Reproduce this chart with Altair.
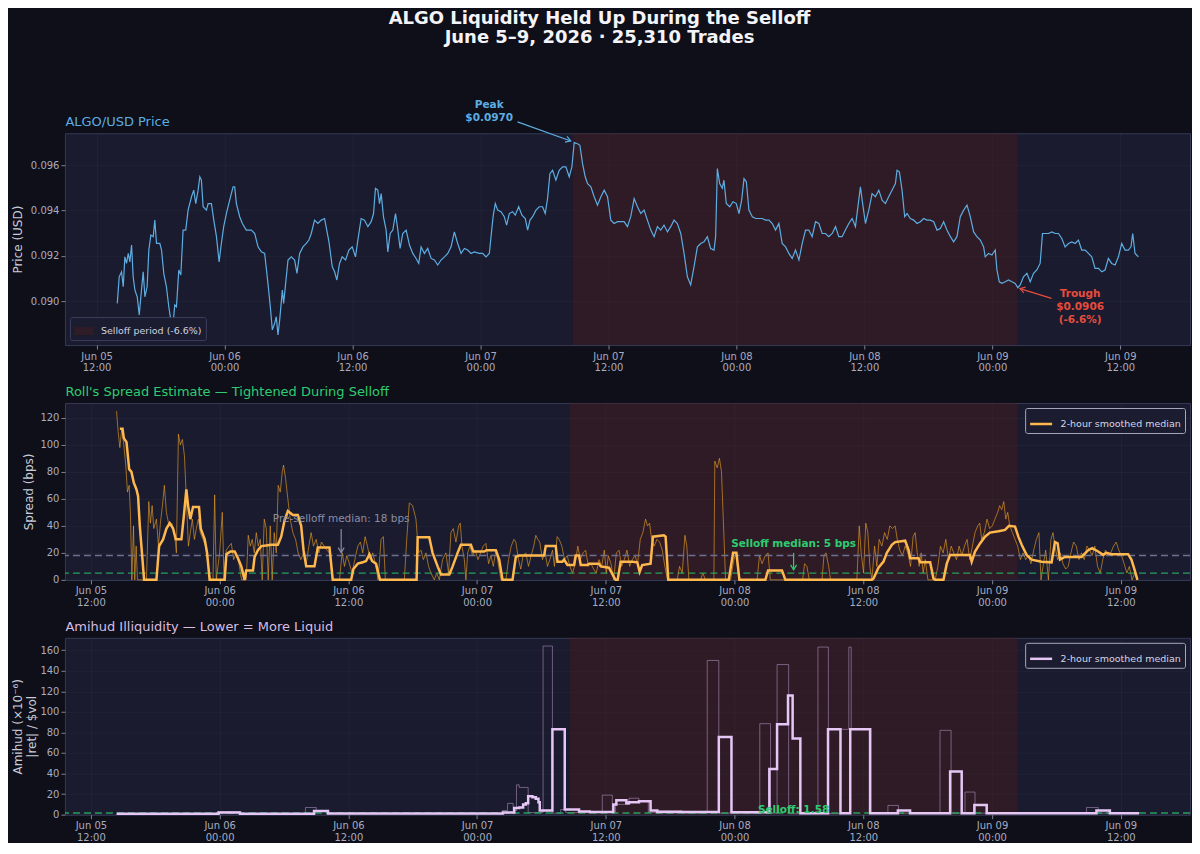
import altair as alt
import pandas as pd

# ---------------- data (hours after Jun 05 12:00, value) ----------------
PRICE = [
    (1.94, 0.08991), (2.12, 0.09108), (2.34, 0.09130), (2.50, 0.09064), (2.65, 0.09196), (2.81, 0.09167),
    (2.97, 0.09211), (3.12, 0.09174), (3.28, 0.09248), (3.43, 0.09108), (3.59, 0.09050), (3.81, 0.09020),
    (4.00, 0.08940), (4.21, 0.09050), (4.37, 0.09130), (4.53, 0.09020), (4.74, 0.09064), (4.90, 0.09226),
    (5.09, 0.09292), (5.31, 0.09285), (5.46, 0.09358), (5.62, 0.09255), (5.93, 0.09255), (6.09, 0.09226),
    (6.30, 0.09123), (6.55, 0.09064), (6.77, 0.08976), (6.96, 0.08918), (7.18, 0.08903), (7.33, 0.08984),
    (7.49, 0.08976), (7.71, 0.09138), (7.90, 0.09116), (8.11, 0.09314), (8.36, 0.09314), (8.58, 0.09402),
    (8.90, 0.09461), (9.11, 0.09490), (9.30, 0.09431), (9.52, 0.09490), (9.68, 0.09549), (9.83, 0.09534),
    (9.99, 0.09417), (10.30, 0.09402), (10.46, 0.09431), (10.77, 0.09431), (10.99, 0.09358), (11.24, 0.09285),
    (11.49, 0.09174), (11.70, 0.09255), (11.92, 0.09329), (12.17, 0.09387), (12.48, 0.09446), (12.80, 0.09505),
    (12.95, 0.09505), (13.11, 0.09431), (13.42, 0.09373), (13.67, 0.09343), (14.04, 0.09314), (14.51, 0.09314),
    (14.83, 0.09299), (15.14, 0.09240), (15.45, 0.09218), (15.76, 0.09211), (16.07, 0.09079), (16.29, 0.08976),
    (16.48, 0.08874), (16.70, 0.08903), (16.85, 0.08932), (17.01, 0.08852), (17.17, 0.08918), (17.42, 0.09050),
    (17.54, 0.08991), (17.73, 0.09079), (17.95, 0.09182), (18.26, 0.09196), (18.57, 0.09182), (18.79, 0.09123),
    (19.04, 0.09211), (19.35, 0.09240), (19.66, 0.09255), (19.91, 0.09270), (20.13, 0.09299), (20.44, 0.09358),
    (20.75, 0.09343), (21.07, 0.09358), (21.38, 0.09365), (21.79, 0.09262), (22.10, 0.09152), (22.32, 0.09130),
    (22.53, 0.09094), (22.78, 0.09167), (23.03, 0.09196), (23.35, 0.09182), (23.66, 0.09226), (23.97, 0.09240),
    (24.28, 0.09196), (24.50, 0.09270), (24.81, 0.09365), (25.12, 0.09358), (25.44, 0.09329), (25.75, 0.09351),
    (25.97, 0.09387), (26.15, 0.09498), (26.37, 0.09490), (26.53, 0.09431), (26.69, 0.09475), (26.90, 0.09373),
    (27.15, 0.09314), (27.31, 0.09218), (27.53, 0.09299), (27.78, 0.09314), (28.03, 0.09387), (28.25, 0.09314),
    (28.46, 0.09233), (28.71, 0.09299), (29.03, 0.09314), (29.34, 0.09248), (29.65, 0.09211), (29.96, 0.09189),
    (30.21, 0.09167), (30.43, 0.09240), (30.74, 0.09211), (31.05, 0.09233), (31.37, 0.09189), (31.68, 0.09182),
    (31.99, 0.09160), (32.30, 0.09182), (32.62, 0.09196), (32.93, 0.09211), (33.24, 0.09240), (33.55, 0.09306),
    (33.86, 0.09255), (34.18, 0.09211), (34.49, 0.09233), (34.80, 0.09226), (35.11, 0.09211), (35.42, 0.09218),
    (35.89, 0.09211), (36.20, 0.09211), (36.52, 0.09196), (36.83, 0.09211), (37.05, 0.09314), (37.20, 0.09380),
    (37.39, 0.09431), (37.61, 0.09402), (37.92, 0.09395), (38.23, 0.09373), (38.45, 0.09336), (38.70, 0.09387),
    (39.01, 0.09395), (39.26, 0.09380), (39.58, 0.09417), (39.89, 0.09380), (40.20, 0.09365), (40.42, 0.09314),
    (40.64, 0.09358), (40.89, 0.09373), (41.20, 0.09402), (41.51, 0.09417), (41.82, 0.09417), (42.07, 0.09387),
    (42.29, 0.09453), (42.51, 0.09563), (42.76, 0.09578), (43.07, 0.09534), (43.38, 0.09578), (43.70, 0.09593),
    (44.01, 0.09593), (44.32, 0.09549), (44.57, 0.09593), (44.79, 0.09700), (45.10, 0.09695), (45.32, 0.09688),
    (45.57, 0.09607), (45.82, 0.09549), (46.04, 0.09519), (46.35, 0.09505), (46.66, 0.09461), (46.97, 0.09424),
    (47.29, 0.09461), (47.60, 0.09490), (47.91, 0.09461), (48.22, 0.09358), (48.53, 0.09343), (48.85, 0.09351),
    (49.16, 0.09351), (49.47, 0.09351), (49.78, 0.09329), (50.09, 0.09373), (50.41, 0.09453), (50.72, 0.09417),
    (51.03, 0.09387), (51.34, 0.09402), (51.65, 0.09358), (51.97, 0.09314), (52.28, 0.09285), (52.59, 0.09329),
    (52.90, 0.09314), (53.21, 0.09336), (53.53, 0.09306), (53.84, 0.09329), (54.15, 0.09358), (54.46, 0.09343),
    (54.78, 0.09299), (55.09, 0.09211), (55.40, 0.09108), (55.71, 0.09072), (56.02, 0.09152), (56.34, 0.09240),
    (56.65, 0.09255), (56.96, 0.09262), (57.27, 0.09285), (57.58, 0.09233), (57.90, 0.09226), (58.05, 0.09285),
    (58.21, 0.09585), (58.43, 0.09519), (58.68, 0.09498), (58.83, 0.09534), (59.05, 0.09431), (59.37, 0.09417),
    (59.68, 0.09439), (59.99, 0.09431), (60.24, 0.09387), (60.49, 0.09446), (60.71, 0.09541), (60.93, 0.09527),
    (61.17, 0.09402), (61.49, 0.09373), (61.80, 0.09365), (62.11, 0.09365), (62.42, 0.09365), (62.73, 0.09358),
    (63.05, 0.09358), (63.36, 0.09343), (63.67, 0.09314), (63.98, 0.09343), (64.29, 0.09255), (64.61, 0.09240),
    (64.92, 0.09211), (65.23, 0.09189), (65.54, 0.09226), (65.86, 0.09182), (66.17, 0.09255), (66.48, 0.09314),
    (66.79, 0.09314), (67.10, 0.09285), (67.42, 0.09351), (67.73, 0.09343), (68.04, 0.09299), (68.35, 0.09299),
    (68.66, 0.09285), (68.98, 0.09299), (69.29, 0.09329), (69.60, 0.09285), (69.91, 0.09285), (70.22, 0.09314),
    (70.54, 0.09343), (70.85, 0.09365), (71.16, 0.09329), (71.47, 0.09446), (71.63, 0.09505), (71.79, 0.09446),
    (72.10, 0.09343), (72.41, 0.09402), (72.72, 0.09475), (73.03, 0.09461), (73.35, 0.09490), (73.66, 0.09446),
    (73.97, 0.09431), (74.28, 0.09461), (74.59, 0.09490), (74.91, 0.09519), (75.06, 0.09578), (75.28, 0.09571),
    (75.53, 0.09490), (75.78, 0.09373), (76.00, 0.09387), (76.31, 0.09365), (76.62, 0.09358), (76.94, 0.09343),
    (77.25, 0.09351), (77.56, 0.09365), (77.87, 0.09358), (78.18, 0.09358), (78.50, 0.09351), (78.81, 0.09314),
    (79.12, 0.09321), (79.43, 0.09351), (79.74, 0.09314), (80.06, 0.09285), (80.37, 0.09262), (80.68, 0.09285),
    (80.99, 0.09373), (81.31, 0.09402), (81.62, 0.09424), (81.93, 0.09373), (82.24, 0.09306), (82.55, 0.09285),
    (82.87, 0.09270), (83.18, 0.09240), (83.33, 0.09196), (83.65, 0.09211), (83.96, 0.09204), (84.27, 0.09226),
    (84.43, 0.09138), (84.65, 0.09086), (84.89, 0.09079), (85.21, 0.09086), (85.52, 0.09094), (85.83, 0.09086),
    (86.14, 0.09079), (86.39, 0.09060), (86.61, 0.09072), (86.92, 0.09108), (87.24, 0.09123), (87.55, 0.09086),
    (87.86, 0.09123), (88.17, 0.09138), (88.48, 0.09167), (88.70, 0.09299), (88.95, 0.09299), (89.26, 0.09299),
    (89.58, 0.09306), (89.89, 0.09299), (90.20, 0.09299), (90.51, 0.09277), (90.82, 0.09240), (91.14, 0.09255),
    (91.45, 0.09262), (91.76, 0.09255), (92.07, 0.09270), (92.38, 0.09226), (92.70, 0.09226), (93.01, 0.09211),
    (93.32, 0.09196), (93.63, 0.09145), (93.95, 0.09145), (94.26, 0.09130), (94.57, 0.09138), (94.88, 0.09189),
    (95.19, 0.09167), (95.51, 0.09160), (95.82, 0.09196), (96.13, 0.09255), (96.44, 0.09226), (96.75, 0.09226),
    (97.00, 0.09240), (97.16, 0.09299), (97.38, 0.09211), (97.53, 0.09204), (97.69, 0.09196),
]

SPREAD_RAW = [
    (2.39, 125), (2.54, 110), (2.70, 98), (2.88, 112), (3.07, 100), (3.26, 84), (3.41, 65), (3.57, 70),
    (3.69, 48), (3.82, 0), (3.97, 40), (4.09, 0), (4.22, 25), (4.34, 0), (5.18, 0), (5.40, 58), (5.55, 42),
    (5.71, 55), (5.86, 38), (6.11, 45), (6.30, 25), (6.48, 42), (6.67, 55), (6.85, 70), (7.04, 50), (7.29, 40),
    (7.54, 42), (7.79, 35), (7.97, 20), (8.16, 108), (8.34, 100), (8.53, 104), (8.72, 92), (8.90, 60), (9.09, 25),
    (9.27, 35), (9.46, 45), (9.65, 30), (9.83, 38), (10.02, 45), (10.20, 35), (10.45, 30), (10.70, 25),
    (10.95, 10), (11.14, 0), (11.38, 0), (11.54, 63), (11.69, 0), (12.00, 20), (12.25, 50), (12.41, 0),
    (12.62, 22), (12.87, 25), (13.09, 27), (13.31, 15), (13.55, 20), (13.80, 12), (14.05, 0), (14.48, 0),
    (14.67, 33), (14.86, 25), (15.04, 30), (15.23, 20), (15.42, 35), (15.60, 25), (15.79, 30), (15.97, 0),
    (16.16, 45), (16.35, 38), (16.53, 0), (16.72, 40), (16.90, 0), (17.09, 35), (17.28, 20), (17.46, 70),
    (17.65, 65), (17.84, 80), (17.96, 85), (18.15, 75), (18.36, 60), (18.58, 45), (18.83, 35), (19.08, 30),
    (19.32, 20), (19.57, 15), (19.82, 20), (20.07, 12), (20.32, 25), (20.53, 35), (20.75, 25), (21.00, 30),
    (21.25, 20), (21.49, 28), (21.74, 25), (22.00, 22), (22.24, 20), (22.49, 0), (23.17, 0), (23.42, 20),
    (23.64, 10), (23.85, 18), (24.10, 12), (24.35, 5), (24.60, 15), (24.88, 25), (25.12, 28), (25.34, 20),
    (25.56, 32), (25.78, 25), (26.02, 15), (26.27, 20), (26.52, 12), (26.77, 0), (27.05, 30), (27.26, 32),
    (27.45, 0), (29.22, 0), (29.44, 30), (29.68, 57), (29.99, 55), (30.30, 45), (30.55, 20), (30.77, 22),
    (30.99, 15), (31.23, 20), (31.48, 10), (31.70, 5), (32.01, 0), (32.23, 5), (32.48, 0), (32.78, 15),
    (33.09, 20), (33.34, 5), (33.56, 35), (33.78, 38), (34.03, 28), (34.28, 40), (34.43, 42), (34.59, 25),
    (34.81, 15), (34.96, 0), (35.12, 20), (35.33, 25), (35.58, 18), (35.83, 22), (36.08, 15), (36.33, 20),
    (36.57, 25), (36.82, 27), (37.07, 12), (37.29, 18), (37.51, 10), (37.76, 22), (38.01, 10), (38.22, 0),
    (38.68, 0), (38.93, 15), (39.18, 25), (39.43, 30), (39.61, 28), (39.86, 15), (40.07, 8), (40.29, 18),
    (40.54, 20), (40.79, 10), (41.04, 18), (41.28, 25), (41.47, 33), (41.66, 30), (41.84, 28), (42.09, 15),
    (42.34, 20), (42.56, 10), (42.78, 15), (43.03, 22), (43.21, 10), (43.46, 32), (43.65, 30), (43.90, 25),
    (44.15, 15), (44.40, 18), (44.65, 10), (44.90, 5), (45.14, 12), (45.39, 25), (45.62, 15), (45.87, 20),
    (46.12, 22), (46.37, 10), (46.61, 12), (46.86, 8), (47.11, 5), (47.36, 15), (47.61, 10), (47.86, 22),
    (48.04, 5), (48.23, 18), (48.48, 12), (48.73, 0), (48.98, 20), (49.23, 22), (49.47, 10), (49.72, 15),
    (49.97, 22), (50.22, 10), (50.47, 15), (50.71, 18), (50.96, 12), (51.21, 30), (51.45, 35), (51.70, 45),
    (51.89, 40), (52.08, 42), (52.26, 30), (52.51, 25), (52.76, 30), (53.01, 28), (53.26, 22), (53.50, 10),
    (53.75, 0), (54.65, 0), (54.87, 10), (55.12, 5), (55.37, 33), (55.55, 25), (55.74, 0), (56.83, 0),
    (57.04, 5), (57.29, 0), (58.07, 0), (58.16, 88), (58.38, 83), (58.59, 90), (58.78, 80), (58.97, 40),
    (59.16, 0), (59.62, 0), (59.93, 15), (60.15, 20), (60.40, 0), (62.10, 0), (62.32, 18), (62.56, 12),
    (62.87, 18), (63.12, 20), (63.33, 0), (66.34, 0), (66.53, 12), (66.74, 10), (66.96, 0), (68.15, 0),
    (68.33, 18), (68.52, 20), (68.77, 10), (68.95, 0), (71.40, 0), (71.62, 40), (71.80, 20), (72.02, 5),
    (72.23, 42), (72.42, 35), (72.61, 10), (72.80, 0), (73.05, 25), (73.26, 10), (73.48, 30), (73.73, 25),
    (73.98, 35), (74.23, 30), (74.47, 40), (74.72, 38), (74.97, 40), (75.16, 30), (75.40, 22), (75.65, 18),
    (75.90, 25), (76.15, 20), (76.40, 10), (76.64, 32), (76.83, 35), (77.02, 20), (77.20, 10), (77.39, 20),
    (77.58, 5), (77.77, 15), (78.02, 0), (78.70, 0), (78.95, 10), (79.19, 25), (79.44, 20), (79.69, 30),
    (79.94, 15), (80.19, 25), (80.43, 20), (80.68, 15), (80.93, 25), (81.18, 18), (81.43, 25), (81.67, 30),
    (81.92, 15), (82.17, 25), (82.41, 35), (82.66, 40), (82.85, 42), (83.03, 30), (83.28, 35), (83.53, 45),
    (83.78, 38), (84.02, 40), (84.27, 45), (84.52, 50), (84.71, 55), (84.90, 52), (85.09, 58), (85.28, 45),
    (85.46, 50), (85.65, 40), (85.90, 35), (86.14, 30), (86.39, 25), (86.64, 15), (86.89, 20), (87.13, 15),
    (87.38, 18), (87.63, 12), (87.88, 22), (88.13, 30), (88.37, 35), (88.56, 0), (88.75, 10), (89.00, 22),
    (89.25, 0), (89.49, 30), (89.68, 35), (89.86, 25), (90.11, 15), (90.36, 20), (90.61, 12), (90.86, 8),
    (91.10, 10), (91.35, 20), (91.60, 28), (91.85, 25), (92.10, 15), (92.34, 20), (92.59, 15), (92.84, 25),
    (93.09, 22), (93.33, 18), (93.58, 25), (93.83, 10), (94.08, 5), (94.32, 15), (94.57, 22), (94.82, 18),
    (95.07, 20), (95.32, 25), (95.57, 28), (95.81, 22), (96.06, 18), (96.31, 12), (96.56, 5), (96.80, 10),
    (97.05, 0), (97.30, 5), (97.55, 0),
]

SPREAD_MED = [
    (2.70, 112), (2.95, 112), (3.07, 105), (3.32, 102), (3.57, 82), (3.78, 80), (4.00, 72), (4.25, 67),
    (4.40, 62), (4.56, 40), (4.81, 15), (4.96, 0), (6.11, 0), (6.36, 25), (6.73, 30), (7.04, 38), (7.35, 42),
    (7.66, 38), (7.91, 30), (8.44, 30), (8.65, 46), (8.90, 67), (9.06, 55), (9.27, 45), (9.52, 54), (10.08, 54),
    (10.24, 38), (10.61, 30), (10.83, 20), (11.07, 0), (12.47, 0), (12.63, 19), (13.00, 21), (13.40, 21),
    (13.71, 16), (14.02, 10), (14.33, 0), (14.48, 7), (15.11, 7), (15.26, 17), (15.57, 22), (15.88, 25),
    (16.35, 25.5), (16.81, 26), (17.43, 26), (17.74, 32), (18.05, 44), (18.36, 51), (18.83, 48), (19.29, 48),
    (19.60, 40), (19.82, 22), (20.07, 10), (20.84, 10), (21.15, 24), (22.24, 24), (22.55, 0), (24.26, 0),
    (24.47, 8), (24.88, 12), (25.34, 13), (25.65, 14), (25.96, 19), (26.21, 14), (26.58, 12), (26.95, 0),
    (30.36, 0), (30.46, 31.5), (31.54, 31.5), (31.85, 20), (32.32, 10), (32.63, 4), (33.41, 4), (33.72, 10),
    (34.18, 20), (34.49, 26), (35.42, 26), (35.64, 21), (36.66, 21), (36.88, 22), (37.75, 22), (38.06, 15),
    (38.37, 0), (39.30, 0), (39.61, 17), (39.92, 18), (42.25, 18), (42.40, 25), (43.33, 25), (43.49, 13.5),
    (43.95, 13.5), (44.11, 15), (44.42, 11), (45.04, 11), (45.19, 18), (45.50, 18), (45.66, 11), (46.28, 11),
    (46.43, 12), (47.36, 12), (47.52, 10), (48.29, 9), (48.76, 2), (48.91, 0), (49.10, 0), (49.38, 13.5),
    (50.47, 13.5), (50.93, 13), (51.15, 6), (51.39, 11), (52.17, 12), (52.39, 32), (53.41, 33), (53.57, 32),
    (53.82, 0), (59.46, 0), (59.86, 20), (60.17, 20), (60.45, 0), (62.87, 0), (63.12, 7), (64.42, 7),
    (64.73, 0), (72.80, 0), (72.95, 1), (73.41, 9), (73.88, 13.5), (74.19, 20), (74.66, 26), (74.97, 28),
    (75.90, 29), (76.22, 22), (76.37, 16), (77.15, 16), (77.30, 13), (78.23, 13), (78.54, 1), (78.70, 0),
    (79.47, 0), (79.78, 12), (80.09, 18.5), (81.95, 18.5), (82.10, 13.5), (82.41, 21), (82.88, 27), (83.34, 32),
    (83.81, 35), (84.59, 36), (85.21, 37), (85.58, 40), (86.14, 39.5), (86.45, 32), (86.76, 26), (87.22, 18.5),
    (87.69, 15), (88.62, 13.5), (89.55, 13), (89.86, 28), (90.11, 27), (90.33, 15), (90.79, 17), (92.34, 17),
    (92.96, 22), (93.33, 23.5), (93.89, 21), (94.35, 18.5), (94.66, 20), (95.13, 19), (96.68, 19), (96.99, 15),
    (97.30, 7), (97.55, 0),
]

# Amihud values are hourly-window steps (value holds until the next time)
AMIHUD_RAW = [
    (2.40, 0.8), (11.85, 3), (13.87, 0.8), (20.00, 7), (21.00, 4), (22.10, 1.0), (38.37, 4), (38.84, 11),
    (39.36, 4), (39.67, 29), (39.92, 26.5), (40.76, 2), (42.15, 164), (43.02, 1.5), (43.79, 5), (44.26, 2),
    (47.67, 19), (48.60, 3), (48.91, 10), (50.16, 16), (51.09, 13), (51.96, 2), (52.64, 4), (55.12, 1.5),
    (57.45, 150), (58.53, 1.5), (62.35, 88.5), (63.35, 1.5), (63.96, 146), (65.04, 1), (67.77, 163),
    (68.74, 1), (69.87, 83), (70.65, 163), (70.87, 83), (72.55, 1.5), (74.29, 9), (75.28, 1.5), (79.15, 82),
    (80.18, 1.5), (81.48, 22), (82.41, 1.5), (92.80, 7), (93.89, 1.5), (97.70, 1.5),
]

AMIHUD_MED = [
    (2.40, 0.8), (11.90, 2.0), (13.90, 1.0), (20.80, 3.5), (22.10, 1.2), (38.40, 2.0), (39.46, 6.5),
    (39.92, 7.0), (40.29, 10), (40.54, 11), (40.76, 18), (41.16, 17), (41.47, 15.5), (41.72, 12), (41.84, 4),
    (43.02, 83), (44.17, 5), (45.50, 3), (46.50, 2.5), (48.70, 10), (48.98, 14), (49.91, 11), (50.16, 12),
    (51.09, 13), (52.17, 4), (52.80, 2.5), (58.53, 75.5), (59.71, 2.3), (63.24, 44.5), (63.96, 88),
    (64.98, 116), (65.41, 74), (66.13, 1.5), (68.71, 83), (69.87, 1.5), (70.78, 83), (72.64, 1.5),
    (75.22, 4), (76.36, 1.5), (80.09, 42), (81.17, 1.5), (82.35, 9.5), (83.50, 1.5), (93.73, 4),
    (94.98, 1.5), (97.70, 1.5),
]

TICK_TIMES = [(5, 12), (6, 0), (6, 12), (7, 0), (7, 12), (8, 0), (8, 12), (9, 0), (9, 12)]
SELLOFF_HOURS = (44.65, 86.35)
PRE_SELLOFF_SPREAD = 18
SELLOFF_SPREAD = 5
SELLOFF_AMIHUD = 1.58
PEAK_PRICE = 0.0970
TROUGH_PRICE = 0.0906
DROP_PCT = -6.6
N_TRADES = 25310

# annotation anchors (hours, value)
PEAK_TEXT_AT = (36.82, 0.09852)
PEAK_ARROW = (39.47, 0.09791, 44.46, 0.09707)
TROUGH_TEXT_AT = (92.23, 0.09018)
TROUGH_ARROW = (89.55, 0.09013, 86.59, 0.09056)
PRE_TEXT_AT = (23.33, 42.7)
PRE_ARROW = (23.33, 37.7, 23.33, 20.2)
SELL_TEXT_AT = (65.5, 24.6)
SELL_ARROW = (65.5, 20.0, 65.5, 7.4)
AMIHUD_TEXT_AT = (65.5, 1.9)

# ---------------- helpers ----------------
BASE = pd.Timestamp("2026-06-05 12:00:00")


def times(hours):
    return (BASE + pd.to_timedelta(list(hours), unit="h")).round("s")


def frame(pairs, col):
    return pd.DataFrame({"t": times([a for a, _ in pairs]), col: [b for _, b in pairs]})


def dt(day, hour, minute=0):
    return alt.DateTime(year=2026, month=6, date=day, hours=hour, minutes=minute)


TICKS = [dt(d, h) for d, h in TICK_TIMES]
PRICE_DOMAIN = [dt(5, 9, 2), dt(9, 18, 32)]
LIQ_DOMAIN = [dt(5, 9, 35), dt(9, 18, 27)]

W = 1126
H1, H2 = 212, 177

FONT = "DejaVu Sans"
BLUE = "#5dade2"
RED = "#e74c3c"
GREEN = "#2ecc71"
GRAY = "#8a8da5"
ORANGE = "#ffb84d"
LAVENDER = "#e6c6f5"
SHADE = "#501e19"
SHADE_OP = 0.38

LABEL_EXPR = "[timeFormat(datum.value, '%b %d'), timeFormat(datum.value, '%H:%M')]"

X_AXIS = alt.Axis(values=TICKS, labelExpr=LABEL_EXPR, title=None, labelLineHeight=11.5,
                  labelPadding=2, tickSize=4, grid=True, labelOverlap=False, labelFlush=False)

ONE = pd.DataFrame({"k": [0]})


def X(domain, field="t"):
    return alt.X(f"{field}:T", scale=alt.Scale(domain=domain), axis=X_AXIS)


def Y(field, domain, axis):
    return alt.Y(f"{field}:Q", scale=alt.Scale(domain=domain, nice=False, zero=False), axis=axis)


def fixed_text(text, x, y, color, size, weight="normal", align="left", baseline="alphabetic", lh=None):
    kw = dict(text=text, color=color, fontSize=size, fontWeight=weight, align=align,
              baseline=baseline, font=FONT, lineBreak="\n")
    if lh:
        kw["lineHeight"] = lh
    return alt.Chart(ONE).mark_text(**kw).encode(x=alt.value(x), y=alt.value(y))


def anno_text(text, at, xdom, ydom, yaxis, color, size=10.5, weight="bold", lh=12.6):
    df = pd.DataFrame({"t": times([at[0]]), "v": [at[1]], "label": [text]})
    return alt.Chart(df).mark_text(color=color, fontSize=size, fontWeight=weight, align="center",
                                   baseline="alphabetic", lineBreak="\n", lineHeight=lh, font=FONT).encode(
        x=X(xdom), y=Y("v", ydom, yaxis), text="label:N")


def arrow(spec, angle, color, xdom, ydom, yaxis):
    th, tv, hh, hv = spec
    df = pd.DataFrame({"t": times([th]), "v": [tv], "t2": times([hh]), "v2": [hv]})
    line = alt.Chart(df).mark_rule(color=color, strokeWidth=1.2).encode(
        x=X(xdom), y=Y("v", ydom, yaxis), x2="t2:T", y2="v2:Q")
    tip = pd.DataFrame({"t": times([hh]), "v": [hv]})
    head = alt.Chart(tip).mark_point(shape="M-0.6,1L0,0L0.6,1", filled=False, size=100, angle=angle,
                                     color=color, strokeWidth=1.2, opacity=1).encode(
        x=X(xdom), y=Y("v", ydom, yaxis))
    return line + head


def hline(value, color, ydom, yaxis, opacity=1.0):
    df = pd.DataFrame({"v": [value]})
    return alt.Chart(df).mark_rule(color=color, strokeDash=[7, 4], strokeWidth=1.4, opacity=opacity).encode(
        y=Y("v", ydom, yaxis))


def selloff_rect(xdom, height, legend=None):
    df = pd.DataFrame({"t": times([SELLOFF_HOURS[0]]), "t2": times([SELLOFF_HOURS[1]]),
                       "label": [f"Selloff period ({DROP_PCT:.1f}%)"]})
    enc = dict(x=X(xdom), x2="t2:T", y=alt.value(0), y2=alt.value(height))
    if legend is not None:
        enc["color"] = alt.Color("label:N", scale=alt.Scale(domain=list(df["label"]), range=[SHADE]),
                                 legend=legend)
        return alt.Chart(df).mark_rect(opacity=SHADE_OP).encode(**enc)
    return alt.Chart(df).mark_rect(color=SHADE, opacity=SHADE_OP).encode(**enc)


def med_legend():
    return alt.Legend(title=None, orient="top-right", offset=5, fillColor="#1b1c2f", strokeColor="#a5a8bc",
                      padding=3.5, cornerRadius=2, labelColor="#d5d7e5", labelFontSize=9.5, labelFont=FONT,
                      symbolType="stroke", symbolSize=484, symbolStrokeWidth=2.5, labelOffset=7)


# ---------------- panel 1: price ----------------
price_df = frame(PRICE, "v")
P_DOM = [0.08807, 0.09741]
P_AXIS = alt.Axis(values=[0.090, 0.092, 0.094, 0.096], format=".3f", title="Price (USD)",
                  titleX=-47, titleY=H1 / 2, titleAngle=270, titleAlign="center", titleBaseline="middle",
                  tickSize=4, labelPadding=2, grid=True)

price_legend = alt.Legend(title=None, orient="bottom-left", offset=5, fillColor="#1b1c2f",
                          strokeColor="#3b3e5e", padding=4, cornerRadius=2, labelColor="#d0d2e0",
                          labelFontSize=9.5, labelFont=FONT, symbolType="M-1,-0.42H1V0.42H-1Z",
                          symbolSize=372, labelOffset=7, symbolStrokeWidth=0)

p_line = alt.Chart(price_df).mark_line(color=BLUE, strokeWidth=1.2).encode(
    x=X(PRICE_DOMAIN), y=Y("v", P_DOM, P_AXIS))

panel1 = alt.layer(
    selloff_rect(PRICE_DOMAIN, H1, price_legend),
    p_line,
    arrow(PEAK_ARROW, 109.6, BLUE, PRICE_DOMAIN, P_DOM, P_AXIS),
    arrow(TROUGH_ARROW, 286.9, RED, PRICE_DOMAIN, P_DOM, P_AXIS),
    anno_text(f"Peak\n${PEAK_PRICE:.4f}", PEAK_TEXT_AT, PRICE_DOMAIN, P_DOM, P_AXIS, BLUE, lh=12.5),
    anno_text(f"Trough\n${TROUGH_PRICE:.4f}\n({DROP_PCT:.1f}%)", TROUGH_TEXT_AT, PRICE_DOMAIN, P_DOM, P_AXIS,
              RED, lh=12.7),
    fixed_text("ALGO/USD Price", 0.5, -7, BLUE, 13),
    fixed_text(f"ALGO Liquidity Held Up During the Selloff\nJune 5–9, 2026 · {N_TRADES:,} Trades",
               535, -123, "#f4f4f8", 18, weight="bold", align="center", baseline="top", lh=19),
).properties(width=W, height=H1)

# ---------------- panel 2: Roll spread ----------------
S_DOM = [0, 131]
S_AXIS = alt.Axis(values=[0, 20, 40, 60, 80, 100, 120], title="Spread (bps)",
                  titleX=-36, titleY=H2 / 2, titleAngle=270, titleAlign="center", titleBaseline="middle",
                  tickSize=4, labelPadding=2, grid=True)

s_raw = alt.Chart(frame(SPREAD_RAW, "v")).mark_line(color="#f5a623", opacity=0.6, strokeWidth=1).encode(
    x=X(LIQ_DOMAIN), y=Y("v", S_DOM, S_AXIS))
s_med_df = frame(SPREAD_MED, "v")
s_med_df["series"] = "2-hour smoothed median"
s_med = alt.Chart(s_med_df).mark_line(strokeWidth=2.5).encode(
    x=X(LIQ_DOMAIN), y=Y("v", S_DOM, S_AXIS),
    color=alt.Color("series:N", scale=alt.Scale(domain=["2-hour smoothed median"], range=[ORANGE]),
                    legend=med_legend()))

panel2 = alt.layer(
    selloff_rect(LIQ_DOMAIN, H2),
    s_raw,
    hline(PRE_SELLOFF_SPREAD, "#6e7191", S_DOM, S_AXIS),
    hline(SELLOFF_SPREAD, "#27ae60", S_DOM, S_AXIS, 0.9),
    s_med,
    arrow(PRE_ARROW, 180, GRAY, LIQ_DOMAIN, S_DOM, S_AXIS),
    arrow(SELL_ARROW, 180, GREEN, LIQ_DOMAIN, S_DOM, S_AXIS),
    anno_text(f"Pre-selloff median: {PRE_SELLOFF_SPREAD} bps", PRE_TEXT_AT, LIQ_DOMAIN, S_DOM, S_AXIS,
              GRAY, weight="normal"),
    anno_text(f"Selloff median: {SELLOFF_SPREAD} bps", SELL_TEXT_AT, LIQ_DOMAIN, S_DOM, S_AXIS, GREEN),
    fixed_text("Roll's Spread Estimate — Tightened During Selloff", 0.5, -7.5, GREEN, 13),
).properties(width=W, height=H2)

# ---------------- panel 3: Amihud ----------------
A_DOM = [0, 172]
A_AXIS = alt.Axis(values=[0, 20, 40, 60, 80, 100, 120, 140, 160], title=["Amihud (×10⁻⁶)", "|ret| / $vol"],
                  titleX=-47, titleY=H2 / 2, titleAngle=270, titleAlign="center", titleBaseline="middle",
                  titleLineHeight=13.5, tickSize=4, labelPadding=2, grid=True)

a_raw = alt.Chart(frame(AMIHUD_RAW, "v")).mark_line(color="#c8a2d8", opacity=0.5, strokeWidth=1,
                                                    interpolate="step-after").encode(
    x=X(LIQ_DOMAIN), y=Y("v", A_DOM, A_AXIS))
a_med_df = frame(AMIHUD_MED, "v")
a_med_df["series"] = "2-hour smoothed median"
a_med = alt.Chart(a_med_df).mark_line(strokeWidth=2.5, interpolate="step-after").encode(
    x=X(LIQ_DOMAIN), y=Y("v", A_DOM, A_AXIS),
    color=alt.Color("series:N", scale=alt.Scale(domain=["2-hour smoothed median"], range=[LAVENDER]),
                    legend=med_legend()))

panel3 = alt.layer(
    selloff_rect(LIQ_DOMAIN, H2),
    a_raw,
    hline(SELLOFF_AMIHUD, "#27ae60", A_DOM, A_AXIS, 0.9),
    a_med,
    anno_text(f"Selloff: {SELLOFF_AMIHUD}", AMIHUD_TEXT_AT, LIQ_DOMAIN, A_DOM, A_AXIS, GREEN),
    fixed_text("Amihud Illiquidity — Lower = More Liquid", 0.5, -7, "#d7bde2", 13),
).properties(width=W, height=H2)

chart = alt.vconcat(panel1, panel2, panel3, spacing=58, bounds="flush").resolve_scale(
    x="independent", y="independent", color="independent"
).resolve_legend(color="independent").properties(
    padding={"left": 3, "top": 1, "right": 0, "bottom": 0}
).configure(
    background="#0e0f18", font=FONT
).configure_view(
    fill="#1a1b2e", stroke="#363957", strokeWidth=1
).configure_axis(
    labelColor="#a9acc0", tickColor="#7f8299", domain=False, gridColor="#ffffff", gridOpacity=0.035,
    labelFontSize=10, titleFontSize=12, titleColor="#c9cbd9", titleFontWeight="normal",
    labelFont=FONT, titleFont=FONT
)

chart.save("out.html", embed_options={"renderer": "svg", "actions": False})
